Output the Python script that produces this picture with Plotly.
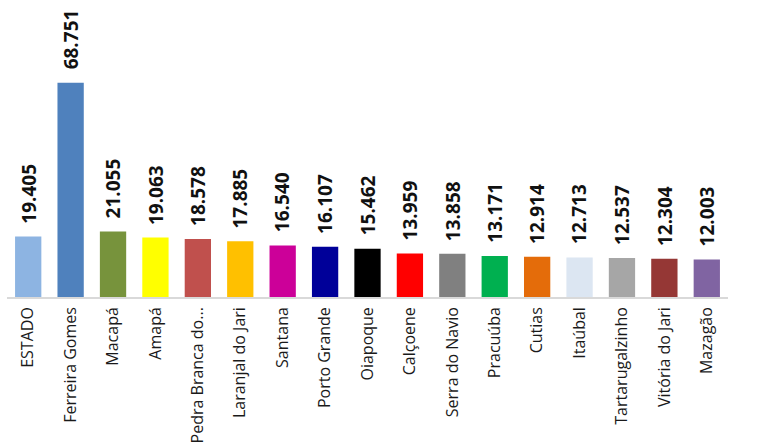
import plotly.graph_objects as go

categories = ["ESTADO", "Ferreira Gomes", "Macapá", "Amapá", "Pedra Branca do...",
              "Laranjal do Jari", "Santana", "Porto Grande", "Oiapoque", "Calçoene",
              "Serra do Navio", "Pracuúba", "Cutias", "Itaúbal", "Tartarugalzinho",
              "Vitória do Jari", "Mazagão"]
values = [19.405, 68.751, 21.055, 19.063, 18.578, 17.885, 16.540, 16.107, 15.462,
          13.959, 13.858, 13.171, 12.914, 12.713, 12.537, 12.304, 12.003]
value_labels = ["19.405", "68.751", "21.055", "19.063", "18.578", "17.885", "16.540",
                "16.107", "15.462", "13.959", "13.858", "13.171", "12.914", "12.713",
                "12.537", "12.304", "12.003"]
colors = ["#8DB4E2", "#4F81BD", "#77933C", "#FFFF00", "#C0504D", "#FFC000", "#CC0099",
          "#000099", "#000000", "#FF0000", "#808080", "#00B050", "#E46C0A", "#DCE6F2",
          "#A6A6A6", "#953735", "#8064A2"]

fig = go.Figure(go.Bar(x=categories, y=values, marker=dict(color=colors, line=dict(width=0)),
                       hoverinfo="x+y"))

for c, v, t in zip(categories, values, value_labels):
    fig.add_annotation(x=c, y=v, text=t, textangle=-90, showarrow=False,
                       yanchor="bottom", yshift=11,
                       font=dict(family="Open Sans", size=19, color="#111111", weight="bold"))

fig.update_layout(
    width=757, height=447,
    margin=dict(l=7, r=29, t=0, b=150),
    paper_bgcolor="white", plot_bgcolor="white",
    bargap=0.38, showlegend=False,
    font=dict(family="Open Sans", color="#222222"),
)
fig.update_xaxes(tickangle=-90, tickfont=dict(size=16, color="#1a1a1a"),
                 showline=True, linecolor="#D9D9D9", linewidth=1.5, ticks="",
                 ticklabelstandoff=2)
fig.update_yaxes(range=[0, 95.3], visible=False, showgrid=False)

fig.write_html("out.html")
